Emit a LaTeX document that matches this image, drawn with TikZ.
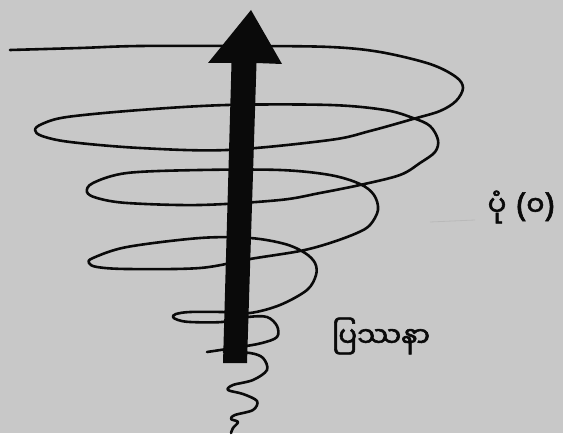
\documentclass[tikz,border=0pt]{standalone}
\usepackage{fontspec}
\newfontfamily\mmfont[Script=Myanmar, FakeBold=2]{Noto Sans Myanmar UI}
\newfontfamily\latinfont[FakeBold=2]{Noto Sans}
\usetikzlibrary{positioning}
\definecolor{paper}{RGB}{200,200,200}
\definecolor{ink}{RGB}{10,10,10}

\begin{document}
\begin{tikzpicture}[x=1bp, y=-1bp,
  coil/.style={draw=ink, line width=2.6bp, line cap=round, line join=round},
  lbl/.style={font=\mmfont\fontsize{28}{32}\selectfont, text=ink, inner sep=0pt},
  bigarrow/.style={fill=ink}
]
  % ── paper ──
  \path[fill=paper] (0,0) rectangle (563,433);

  % ── coil, from the wide top down to the tail ──
  \draw[coil] plot[smooth, tension=0.55] coordinates {
    (10,50) (80,48) (140,46) (250,46) (330,47) (380,52) (430,64) (456,77)
    (463,88) (456,101) (440,111) (413,119) (370,131) (330,140) (227,150)
    (140,148) (70,142) (42,136) (35,130) (42,124) (67,117) (140,110)
    (227,105) (330,105) (385,110) (413,118) (430,126) (438,140) (435,152)
    (420,163) (400,175) (360,185) (320,193) (280,200) (200,205) (127,203)
    (97,198) (87,192) (93,183) (127,173) (200,170) (280,170) (330,175)
    (360,184) (374,195) (378,210) (370,225) (357,233) (330,243) (300,251)
    (250,259) (200,268) (127,269) (97,267) (89,263) (93,258) (127,247)
    (200,238) (250,238) (285,244) (305,253) (315,263) (316,275) (307,290)
    (280,305) (250,313) (222,312) (190,312) (176,314) (173,317) (178,320)
    (190,322) (222,322) (248,317) (267,317) (277,326) (277,337) (262,343)
    (240,347) (207,352)};
  \draw[coil] plot[smooth, tension=0.55] coordinates {
    (224,352) (250,353) (263,358) (267,370) (253,380) (233,385) (228,390)
    (243,394) (257,401) (253,410) (235,415) (231,419) (238,422) (233,428)
    (231,433)};

  % ── the arrow ──
  \fill[bigarrow] (223,363) -- (247,363) -- (256.5,63) -- (282,64)
    -- (251,10) -- (208,63) -- (231.5,63) -- cycle;

  % ── labels ──
  \draw[gray!55, line width=0.8bp] (430,222) -- (475,220);
  \node[lbl] (fig) at (521,207) {ပုံ\hspace{10bp}{\latinfont\fontsize{33}{36}\selectfont(}၀{\latinfont\fontsize{33}{36}\selectfont)}};
  \node[lbl] (problem) at (381,336) {ပြဿနာ};
\end{tikzpicture}
\end{document}
